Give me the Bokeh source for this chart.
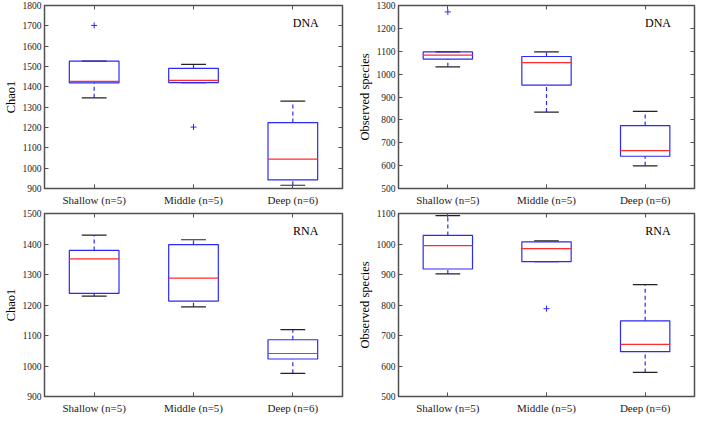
from bokeh.plotting import figure
from bokeh.models import (Range1d, FactorRange, SingleIntervalTicker, LinearAxis,
                          CategoricalAxis, ColumnDataSource, CustomJSTickFormatter)
from bokeh.layouts import column, row
from bokeh.transform import dodge
from bokeh.core.properties import value
from bokeh.embed import file_html
from bokeh.resources import INLINE

# ---------------- data ----------------
categories = ["Shallow (n=5)", "Middle (n=5)", "Deep (n=6)"]

# Chao1, DNA
chao_dna_q1 = [1419, 1421, 942]
chao_dna_med = [1427, 1432, 1044]
chao_dna_q3 = [1526, 1491, 1224]
chao_dna_lo = [1346, 1421, 916]
chao_dna_hi = [1526, 1510, 1330]
chao_dna_out_cat = ["Shallow (n=5)", "Middle (n=5)"]
chao_dna_out_val = [1702, 1202]

# Observed species, DNA
obs_dna_q1 = [1066, 952, 641]
obs_dna_med = [1083, 1050, 666]
obs_dna_q3 = [1097, 1077, 775]
obs_dna_lo = [1032, 834, 599]
obs_dna_hi = [1097, 1097, 837]
obs_dna_out_cat = ["Shallow (n=5)"]
obs_dna_out_val = [1272]

# Chao1, RNA
chao_rna_q1 = [1238, 1213, 1023]
chao_rna_med = [1351, 1288, 1041]
chao_rna_q3 = [1379, 1398, 1086]
chao_rna_lo = [1229, 1194, 976]
chao_rna_hi = [1429, 1414, 1119]
chao_rna_out_cat = []
chao_rna_out_val = []

# Observed species, RNA
obs_rna_q1 = [918, 942, 647]
obs_rna_med = [995, 985, 671]
obs_rna_q3 = [1028, 1007, 748]
obs_rna_lo = [902, 942, 579]
obs_rna_hi = [1093, 1010, 867]
obs_rna_out_cat = ["Middle (n=5)"]
obs_rna_out_val = [788]

# ---------------- style ----------------
FONT = "'Liberation Serif', serif"
BLUE = "#2a2af5"
RED = "#ff2a2a"
FRAME = "#505050"


def panel(q1, med, q3, lo, hi, out_cat, out_val, ymin, ymax, ylabel, tag,
          width, height, bl, br, bt, bb):
    p = figure(x_range=FactorRange(*categories), y_range=Range1d(ymin, ymax),
               width=width, height=height, output_backend="svg",
               toolbar_location=None, min_border_left=bl, min_border_right=br,
               min_border_top=bt, min_border_bottom=bb)
    p.grid.visible = False
    p.outline_line_color = FRAME
    p.outline_line_width = 1.5
    p.background_fill_color = "white"

    src = ColumnDataSource(dict(cat=categories, q1=q1, med=med, q3=q3, lo=lo, hi=hi))

    # whiskers (dashed blue)
    p.segment(x0="cat", x1="cat", y0="q3", y1="hi", source=src,
              line_color=BLUE, line_dash="4 3", line_width=1.2)
    p.segment(x0="cat", x1="cat", y0="lo", y1="q1", source=src,
              line_color=BLUE, line_dash="4 3", line_width=1.2)
    # caps (black)
    p.segment(x0=dodge("cat", -0.125, range=p.x_range), x1=dodge("cat", 0.125, range=p.x_range),
              y0="hi", y1="hi", source=src, line_color="#222222", line_width=1.2)
    p.segment(x0=dodge("cat", -0.125, range=p.x_range), x1=dodge("cat", 0.125, range=p.x_range),
              y0="lo", y1="lo", source=src, line_color="#222222", line_width=1.2)
    # boxes
    p.vbar(x="cat", top="q3", bottom="q1", width=0.5, source=src,
           fill_color=None, line_color=BLUE, line_width=1.2)
    # medians
    p.segment(x0=dodge("cat", -0.25, range=p.x_range), x1=dodge("cat", 0.25, range=p.x_range),
              y0="med", y1="med", source=src, line_color=RED, line_width=1.2)
    # outliers
    if out_cat:
        p.scatter(x=out_cat, y=out_val, marker="cross", size=6,
                  line_color=BLUE, line_width=1)

    # panel tag
    tsrc = ColumnDataSource(dict(cat=[categories[-1]],
                                 y=[ymax - 0.098 * (ymax - ymin)], t=[tag]))
    p.text(x=dodge("cat", 0.13, range=p.x_range), y="y", text="t", source=tsrc,
           text_font=value(FONT), text_font_size=value("12px"),
           text_align="center", text_baseline="middle", text_color="black")

    # axes
    p.yaxis.ticker = SingleIntervalTicker(interval=100, num_minor_ticks=0)
    p.yaxis.axis_label = ylabel
    p.yaxis.axis_label_text_font = FONT
    p.yaxis.axis_label_text_font_size = "12.5px"
    p.yaxis.axis_label_text_font_style = "normal"
    p.yaxis.axis_label_text_color = "black"
    p.yaxis.axis_label_standoff = 2
    p.yaxis.major_label_text_font = FONT
    p.yaxis.major_label_text_font_size = "9.5px"
    p.yaxis.major_label_text_color = "#222222"
    p.yaxis.major_label_standoff = 3
    p.yaxis.major_tick_in = 4
    p.yaxis.major_tick_out = 0
    p.yaxis.minor_tick_in = 0
    p.yaxis.minor_tick_out = 0
    p.yaxis.major_tick_line_color = FRAME
    p.yaxis.axis_line_color = None

    p.xaxis.major_label_text_font = FONT
    p.xaxis.major_label_text_font_size = "11px"
    p.xaxis.major_label_text_color = "#222222"
    p.xaxis.major_label_standoff = 5
    p.xaxis.major_tick_in = 4
    p.xaxis.major_tick_out = 0
    p.xaxis.major_tick_line_color = FRAME
    p.xaxis.axis_line_color = None

    ra = LinearAxis(ticker=SingleIntervalTicker(interval=100, num_minor_ticks=0),
                    formatter=CustomJSTickFormatter(code="return ''"), major_label_standoff=0,
                    major_tick_in=4, major_tick_out=0, minor_tick_in=0, minor_tick_out=0,
                    major_tick_line_color=FRAME, axis_line_color=None)
    p.add_layout(ra, "right")
    ta = CategoricalAxis(formatter=CustomJSTickFormatter(code="return ''"),
                         major_label_standoff=0,
                         major_tick_in=4, major_tick_out=0,
                         major_tick_line_color=FRAME, axis_line_color=None)
    p.add_layout(ta, "above")
    return p


p1 = panel(chao_dna_q1, chao_dna_med, chao_dna_q3, chao_dna_lo, chao_dna_hi,
           chao_dna_out_cat, chao_dna_out_val, 900, 1800, "Chao1", "DNA",
           354, 208, 35, 12, 5, 18)
p2 = panel(obs_dna_q1, obs_dna_med, obs_dna_q3, obs_dna_lo, obs_dna_hi,
           obs_dna_out_cat, obs_dna_out_val, 500, 1300, "Observed species", "DNA",
           342, 208, 36, 2, 5, 18)
p3 = panel(chao_rna_q1, chao_rna_med, chao_rna_q3, chao_rna_lo, chao_rna_hi,
           chao_rna_out_cat, chao_rna_out_val, 900, 1500, "Chao1", "RNA",
           354, 208, 35, 12, 5, 18)
p4 = panel(obs_rna_q1, obs_rna_med, obs_rna_q3, obs_rna_lo, obs_rna_hi,
           obs_rna_out_cat, obs_rna_out_val, 500, 1100, "Observed species", "RNA",
           342, 208, 36, 2, 5, 18)

layout = column(row(p1, p2), row(p3, p4))
open("out.html", "w").write(file_html(layout, INLINE))
